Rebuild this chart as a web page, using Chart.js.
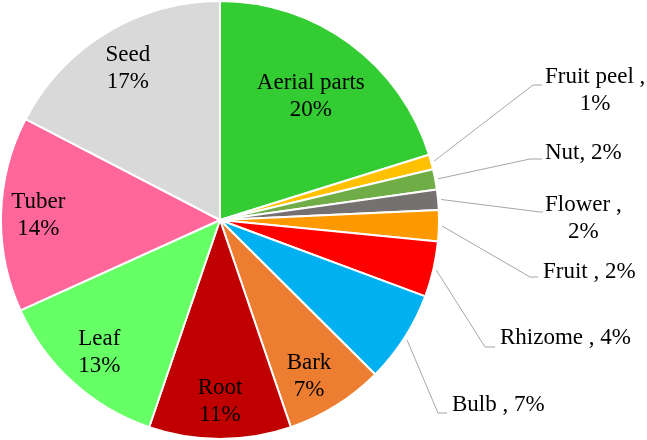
<!DOCTYPE html>
<html>
<head>
<meta charset="utf-8">
<script src="https://cdn.jsdelivr.net/npm/chart.js@4/dist/chart.umd.min.js"></script>
<style>
  html, body { margin: 0; padding: 0; background: #fff; }
</style>
</head>
<body>
<canvas id="chart" width="647" height="440"></canvas>
<script>
// plant parts, clockwise from 12 o'clock
const parts = ["Aerial parts", "Fruit peel", "Nut", "Flower", "Fruit", "Rhizome",
               "Bulb", "Bark", "Root", "Leaf", "Tuber", "Seed"];
// slice sizes
const shares = [20.2, 1.1, 1.5, 1.5, 2.3, 4.1, 6.8, 7.3, 10.5, 13.0, 14.4, 17.4];
// percentages as printed on the chart
const shownPct = [20, 1, 2, 2, 2, 4, 7, 7, 11, 13, 14, 17];
const colors = ["#33cc33", "#ffc000", "#70ad47", "#767171", "#ff9900", "#ff0000",
                "#00b0f0", "#ed7d31", "#c00000", "#66ff66", "#ff6699", "#d9d9d9"];

// label placement: inside labels by radius fraction, callouts by text box + elbow
const placement = [
  { inside: true, r: 0.70 },
  { sep: " ,", wrap: true, left: 545, y: 77, elbow: [533, 85], end: 542 },
  { sep: ",", left: 545, y: 153, elbow: [530, 159], end: 542 },
  { sep: " ,", wrap: true, left: 545, y: 205, elbow: [540, 212], end: 543 },
  { sep: " ,", left: 543, y: 272, elbow: [530, 277], end: 538 },
  { sep: " ,", left: 500, y: 338, elbow: [485, 347], end: 495 },
  { sep: " ,", left: 452, y: 405, elbow: [438, 413], end: 447 },
  { inside: true, r: 0.82, da: 0.04 },
  { inside: true, r: 0.83 },
  { inside: true, r: 0.82 },
  { inside: true, r: 0.83 },
  { inside: true, r: 0.81 }
];

const LINE = 27;

const labelPlugin = {
  id: "pieLabels",
  afterDatasetsDraw(chart) {
    const ctx = chart.ctx;
    const arcs = chart.getDatasetMeta(0).data;
    ctx.save();
    ctx.font = "23px 'Liberation Serif', 'Times New Roman', serif";
    ctx.fillStyle = "#000";
    ctx.textBaseline = "middle";
    arcs.forEach((arc, i) => {
      const p = placement[i];
      const mid = (arc.startAngle + arc.endAngle) / 2 + (p.da || 0);
      if (p.inside) {
        const r = arc.outerRadius * p.r;
        const x = arc.x + Math.cos(mid) * r;
        const y = arc.y + Math.sin(mid) * r;
        ctx.textAlign = "center";
        ctx.fillText(parts[i], x, y - LINE / 2);
        ctx.fillText(shownPct[i] + "%", x, y + LINE / 2);
        return;
      }
      // leader line from slice edge
      const r0 = arc.outerRadius + 3;
      ctx.beginPath();
      ctx.moveTo(arc.x + Math.cos(mid) * r0, arc.y + Math.sin(mid) * r0);
      ctx.lineTo(p.elbow[0], p.elbow[1]);
      ctx.lineTo(p.end, p.elbow[1]);
      ctx.strokeStyle = "#a6a6a6";
      ctx.lineWidth = 1;
      ctx.stroke();

      const lines = p.wrap
        ? [parts[i] + p.sep, shownPct[i] + "%"]
        : [parts[i] + p.sep + " " + shownPct[i] + "%"];
      const w = Math.max(...lines.map(t => ctx.measureText(t).width));
      ctx.textAlign = "center";
      lines.forEach((t, k) => ctx.fillText(t, p.left + w / 2, p.y + k * LINE));
    });
    ctx.restore();
  }
};

new Chart(document.getElementById("chart").getContext("2d"), {
  type: "pie",
  data: {
    labels: parts,
    datasets: [{
      data: shares,
      backgroundColor: colors,
      borderColor: "#ffffff",
      borderWidth: 2
    }]
  },
  options: {
    responsive: false,
    animation: false,
    layout: { padding: { left: 0, top: 0, bottom: 0, right: 207 } },
    plugins: {
      legend: { display: false },
      tooltip: { enabled: false }
    }
  },
  plugins: [labelPlugin]
});
</script>
</body>
</html>
